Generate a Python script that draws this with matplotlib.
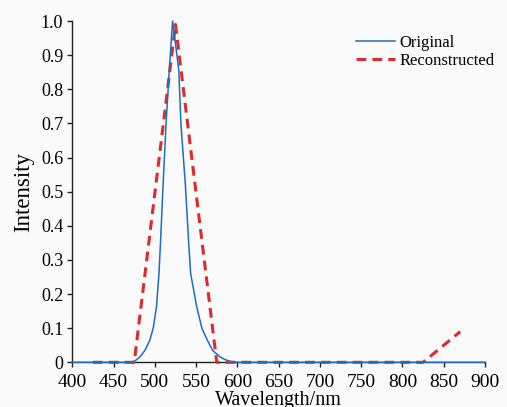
import matplotlib
matplotlib.use("Agg")
import matplotlib.pyplot as plt
from matplotlib.ticker import FuncFormatter

# original spectrum
orig_wl = [400, 470, 476, 482, 488, 494, 498, 502, 505, 507, 510, 513.5, 517.5, 521.5,
           529, 531.7, 537, 541, 543.4, 550.7, 557, 563.6, 570, 579, 585, 591, 600, 900]
orig_int = [0, 0, 0.004, 0.016, 0.035, 0.065, 0.1, 0.163, 0.26, 0.358, 0.52, 0.695, 0.857, 1.0,
            0.857, 0.695, 0.52, 0.35, 0.26, 0.163, 0.1, 0.065, 0.035, 0.016, 0.008, 0.003, 0, 0]

# reconstructed spectrum
rec_wl = [425, 475, 525, 575, 625, 675, 725, 775, 825, 870]
rec_int = [0, 0, 0.99, 0, 0, 0, 0, 0, 0, 0.09]

xticks = list(range(400, 901, 50))
yticks = [i / 10 for i in range(11)]

plt.rcParams['font.family'] = ['Liberation Serif', 'DejaVu Serif']

fig = plt.figure(figsize=(5.07, 4.07), dpi=100, facecolor='#fafafa')
ax = fig.add_axes([0.1426, 0.1098, 0.8140, 0.8386])
ax.set_facecolor('#fafafa')

ax.plot(rec_wl, rec_int, color='#dd2a2e', lw=2.2, dashes=(3.2, 2),
        label='Reconstructed', zorder=3, clip_on=False)
ax.plot(orig_wl, orig_int, color='#1a6fc0', lw=1.1,
        label='Original', zorder=4, clip_on=False)

ax.set_xlim(400, 900)
ax.set_ylim(0, 1.0)
ax.set_xticks(xticks)
ax.set_yticks(yticks)
ax.yaxis.set_major_formatter(FuncFormatter(lambda v, p: '0' if v == 0 else f'{v:.1f}'))

for s in ['top', 'right']:
    ax.spines[s].set_visible(False)
for s in ['left', 'bottom']:
    ax.spines[s].set_linewidth(1.0)
    ax.spines[s].set_color('#222222')

ax.tick_params(axis='both', direction='out', length=3.5, width=1.0,
               colors='#222222', labelcolor='black')
ax.tick_params(axis='y', pad=3, labelsize=13)
ax.tick_params(axis='x', pad=5, labelsize=14)

ax.set_xlabel('Wavelength/nm', fontsize=14.5, labelpad=0)
ax.set_ylabel('Intensity', fontsize=16.5, labelpad=5)

h, l = ax.get_legend_handles_labels()
ax.legend(h[::-1], l[::-1], loc='upper left', bbox_to_anchor=(0.672, 0.978),
          frameon=False, fontsize=12, handlelength=2.3, handletextpad=0.3,
          labelspacing=0.12, borderaxespad=0)

fig.savefig('out.png', dpi=100, facecolor=fig.get_facecolor())
